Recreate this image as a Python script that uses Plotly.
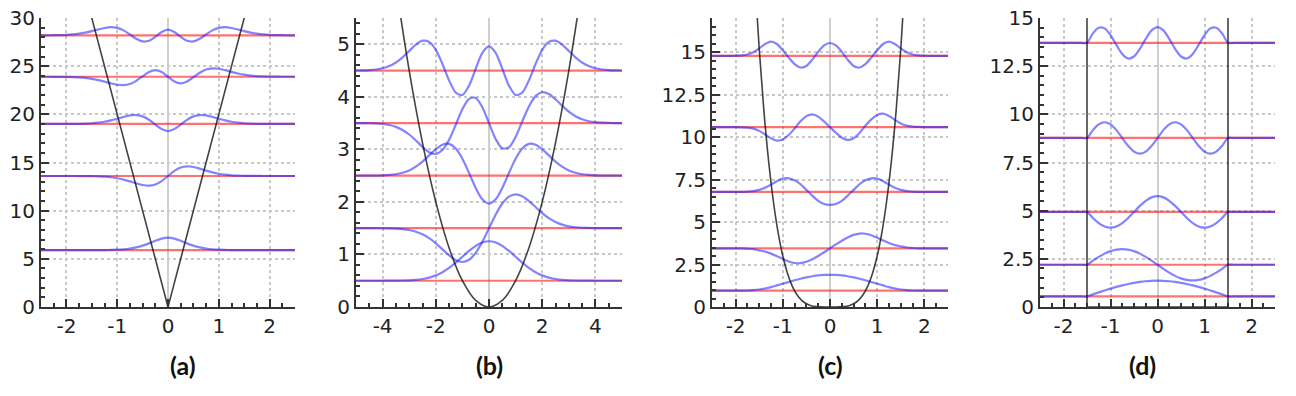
import plotly.graph_objects as go

# sample positions (panels a, c, d share one grid; panel b is wider)
x_grid = [-2.5, -2.375, -2.25, -2.125, -2.0, -1.875, -1.75, -1.625, -1.5, -1.375,
          -1.25, -1.125, -1.0, -0.875, -0.75, -0.625, -0.5, -0.375, -0.25, -0.125,
          0.0, 0.125, 0.25, 0.375, 0.5, 0.625, 0.75, 0.875, 1.0, 1.125,
          1.25, 1.375, 1.5, 1.625, 1.75, 1.875, 2.0, 2.125, 2.25, 2.375, 2.5]
x_wide = [-5.0, -4.75, -4.5, -4.25, -4.0, -3.75, -3.5, -3.25, -3.0, -2.75,
          -2.5, -2.25, -2.0, -1.75, -1.5, -1.25, -1.0, -0.75, -0.5, -0.25,
          0.0, 0.25, 0.5, 0.75, 1.0, 1.25, 1.5, 1.75, 2.0, 2.25,
          2.5, 2.75, 3.0, 3.25, 3.5, 3.75, 4.0, 4.25, 4.5, 4.75, 5.0]

# tick labels (plain hyphen minus, as in the original)
xt_narrow = [-2, -1, 0, 1, 2]
xt_narrow_text = ["-2", "-1", "0", "1", "2"]
xt_wide = [-4, -2, 0, 2, 4]
xt_wide_text = ["-4", "-2", "0", "2", "4"]

# (a) V-shaped well
levels_a = [5.9, 13.6, 19.0, 23.9, 28.2]
waves_a = [
    [0, 0, 0, 0, 0, 0, 0, 0, 0, 0.004, 0.010, 0.022, 0.046, 0.089, 0.166, 0.290, 0.468, 0.704, 0.970, 1.201,
     1.310,
     1.201, 0.970, 0.704, 0.468, 0.290, 0.166, 0.089, 0.046, 0.022, 0.010, 0.004, 0, 0, 0, 0, 0, 0, 0, 0, 0],
    [0, 0, 0, 0, 0, 0, -0.004, -0.008, -0.018, -0.038, -0.073, -0.134, -0.233, -0.376, -0.560, -0.765, -0.937, -1.008, -0.883, -0.526,
     0,
     0.526, 0.883, 1.008, 0.937, 0.765, 0.560, 0.376, 0.233, 0.134, 0.073, 0.038, 0.018, 0.008, 0.004, 0, 0, 0, 0, 0, 0],
    [0, 0, 0, 0, 0.004, 0.009, 0.019, 0.038, 0.074, 0.134, 0.230, 0.369, 0.545, 0.734, 0.887, 0.926, 0.788, 0.433, -0.067, -0.526,
     -0.734,
     -0.526, -0.067, 0.433, 0.788, 0.926, 0.887, 0.734, 0.545, 0.369, 0.230, 0.134, 0.074, 0.038, 0.019, 0.009, 0.004, 0, 0, 0, 0],
    [0, 0, -0.003, -0.008, -0.017, -0.035, -0.068, -0.124, -0.213, -0.342, -0.506, -0.685, -0.830, -0.872, -0.750, -0.421, 0.046, 0.483, 0.691, 0.490,
     0,
     -0.490, -0.691, -0.483, -0.046, 0.421, 0.750, 0.872, 0.830, 0.685, 0.506, 0.342, 0.213, 0.124, 0.068, 0.035, 0.017, 0.008, 0.003, 0, 0],
    [0.003, 0.006, 0.013, 0.027, 0.054, 0.101, 0.177, 0.288, 0.438, 0.609, 0.765, 0.848, 0.770, 0.517, 0.093, -0.359, -0.629, -0.566, -0.151, 0.350,
     0.602,
     0.350, -0.151, -0.566, -0.629, -0.359, 0.093, 0.517, 0.770, 0.848, 0.765, 0.609, 0.438, 0.288, 0.177, 0.101, 0.054, 0.027, 0.013, 0.006, 0.003],
]
pot_a_x = [-2.5, 0.0, 2.5]
pot_a_y = [50.0, 0.0, 50.0]

# (b) harmonic oscillator
levels_b = [0.5, 1.5, 2.5, 3.5, 4.5]
waves_b = [
    [0, 0, 0, 0, 0, 0.001, 0.002, 0.004, 0.008, 0.017, 0.033, 0.060, 0.102, 0.162, 0.244, 0.344, 0.456, 0.567, 0.663, 0.728,
     0.751,
     0.728, 0.663, 0.567, 0.456, 0.344, 0.244, 0.162, 0.102, 0.060, 0.033, 0.017, 0.008, 0.004, 0.002, 0.001, 0, 0, 0, 0, 0],
    [0, 0, 0, -0.001, -0.001, -0.004, -0.008, -0.018, -0.035, -0.067, -0.117, -0.190, -0.288, -0.402, -0.517, -0.608, -0.644, -0.601, -0.469, -0.257,
     0,
     0.257, 0.469, 0.601, 0.644, 0.608, 0.517, 0.402, 0.288, 0.190, 0.117, 0.067, 0.035, 0.018, 0.008, 0.004, 0.001, 0.001, 0, 0, 0],
    [0, 0, 0.001, 0.002, 0.006, 0.013, 0.027, 0.054, 0.100, 0.171, 0.268, 0.386, 0.503, 0.589, 0.604, 0.517, 0.322, 0.050, -0.234, -0.450,
     -0.531,
     -0.450, -0.234, 0.050, 0.322, 0.517, 0.604, 0.589, 0.503, 0.386, 0.268, 0.171, 0.100, 0.054, 0.027, 0.013, 0.006, 0.002, 0.001, 0, 0],
    [0, -0.001, -0.003, -0.007, -0.017, -0.036, -0.072, -0.130, -0.217, -0.330, -0.453, -0.553, -0.587, -0.513, -0.317, -0.031, 0.263, 0.460, 0.478, 0.302,
     0,
     -0.302, -0.478, -0.460, -0.263, 0.031, 0.317, 0.513, 0.587, 0.553, 0.453, 0.330, 0.217, 0.130, 0.072, 0.036, 0.017, 0.007, 0.003, 0.001, 0],
    [0.001, 0.003, 0.009, 0.020, 0.043, 0.085, 0.153, 0.252, 0.373, 0.493, 0.568, 0.546, 0.394, 0.125, -0.187, -0.420, -0.465, -0.288, 0.034, 0.337,
     0.460,
     0.337, 0.034, -0.288, -0.465, -0.420, -0.187, 0.125, 0.394, 0.546, 0.568, 0.493, 0.373, 0.252, 0.153, 0.085, 0.043, 0.020, 0.009, 0.003, 0.001],
]
pot_b_x = [-3.5, -3.0, -2.5, -2.0, -1.5, -1.0, -0.5, 0.0, 0.5, 1.0, 1.5, 2.0, 2.5, 3.0, 3.5]
pot_b_y = [6.125, 4.5, 3.125, 2.0, 1.125, 0.5, 0.125, 0.0, 0.125, 0.5, 1.125, 2.0, 3.125, 4.5, 6.125]

# (c) quartic well
levels_c = [0.96, 3.45, 6.77, 10.58, 14.77]
waves_c = [
    [0, 0, 0, 0, 0, 0, 0.01, 0.03, 0.07, 0.13, 0.21, 0.31, 0.41, 0.51, 0.61, 0.70, 0.78, 0.85, 0.90, 0.925,
     0.93,
     0.925, 0.90, 0.85, 0.78, 0.70, 0.61, 0.51, 0.41, 0.31, 0.21, 0.13, 0.07, 0.03, 0.01, 0, 0, 0, 0, 0, 0],
    [0, 0, 0, 0, 0, 0, -0.02, -0.05, -0.12, -0.19, -0.31, -0.46, -0.62, -0.77, -0.86, -0.87, -0.79, -0.64, -0.45, -0.23,
     0,
     0.23, 0.45, 0.64, 0.79, 0.87, 0.86, 0.77, 0.62, 0.46, 0.31, 0.19, 0.12, 0.05, 0.02, 0, 0, 0, 0, 0, 0],
    [0, 0, 0, 0, 0, 0, 0.02, 0.05, 0.12, 0.25, 0.43, 0.63, 0.78, 0.80, 0.68, 0.45, 0.12, -0.22, -0.53, -0.71,
     -0.76,
     -0.71, -0.53, -0.22, 0.12, 0.45, 0.68, 0.80, 0.78, 0.63, 0.43, 0.25, 0.12, 0.05, 0.02, 0, 0, 0, 0, 0, 0],
    [0, 0, 0, 0, 0, -0.01, -0.03, -0.09, -0.22, -0.43, -0.66, -0.79, -0.72, -0.46, -0.08, 0.34, 0.65, 0.75, 0.62, 0.33,
     0,
     -0.33, -0.62, -0.75, -0.65, -0.34, 0.08, 0.46, 0.72, 0.79, 0.66, 0.43, 0.22, 0.09, 0.03, 0.01, 0, 0, 0, 0, 0],
    [0, 0, 0, 0, 0.01, 0.03, 0.08, 0.21, 0.44, 0.70, 0.84, 0.70, 0.33, -0.10, -0.48, -0.68, -0.59, -0.22, 0.24, 0.62,
     0.76,
     0.62, 0.24, -0.22, -0.59, -0.68, -0.48, -0.10, 0.33, 0.70, 0.84, 0.70, 0.44, 0.21, 0.08, 0.03, 0.01, 0, 0, 0, 0],
]
pot_c_x = [-1.6, -1.5, -1.4, -1.3, -1.2, -1.1, -1.0, -0.9, -0.8, -0.7, -0.6, -0.5, -0.4, -0.3, -0.2, -0.1,
           0.0, 0.1, 0.2, 0.3, 0.4, 0.5, 0.6, 0.7, 0.8, 0.9, 1.0, 1.1, 1.2, 1.3, 1.4, 1.5, 1.6]
pot_c_y = [19.66, 15.19, 11.52, 8.57, 6.22, 4.39, 3.0, 1.97, 1.23, 0.72, 0.39, 0.19, 0.077, 0.024, 0.005, 0.0003,
           0.0, 0.0003, 0.005, 0.024, 0.077, 0.19, 0.39, 0.72, 1.23, 1.97, 3.0, 4.39, 6.22, 8.57, 11.52, 15.19, 19.66]

# (d) square well, walls at +-1.5
levels_d = [0.548, 2.193, 4.935, 8.773, 13.708]
waves_d = [
    [0, 0, 0, 0, 0, 0, 0, 0,
     0, 0.107, 0.211, 0.312, 0.408, 0.497, 0.577, 0.648, 0.707, 0.754, 0.789, 0.809, 0.816,
     0.809, 0.789, 0.754, 0.707, 0.648, 0.577, 0.497, 0.408, 0.312, 0.211, 0.107, 0,
     0, 0, 0, 0, 0, 0, 0, 0],
    [0, 0, 0, 0, 0, 0, 0, 0,
     0, 0.211, 0.408, 0.577, 0.707, 0.789, 0.816, 0.789, 0.707, 0.577, 0.408, 0.211, 0,
     -0.211, -0.408, -0.577, -0.707, -0.789, -0.816, -0.789, -0.707, -0.577, -0.408, -0.211, 0,
     0, 0, 0, 0, 0, 0, 0, 0],
    [0, 0, 0, 0, 0, 0, 0, 0,
     0, -0.312, -0.577, -0.754, -0.816, -0.754, -0.577, -0.312, 0, 0.312, 0.577, 0.754, 0.816,
     0.754, 0.577, 0.312, 0, -0.312, -0.577, -0.754, -0.816, -0.754, -0.577, -0.312, 0,
     0, 0, 0, 0, 0, 0, 0, 0],
    [0, 0, 0, 0, 0, 0, 0, 0,
     0, 0.408, 0.707, 0.816, 0.707, 0.408, 0, -0.408, -0.707, -0.816, -0.707, -0.408, 0,
     0.408, 0.707, 0.816, 0.707, 0.408, 0, -0.408, -0.707, -0.816, -0.707, -0.408, 0,
     0, 0, 0, 0, 0, 0, 0, 0],
    [0, 0, 0, 0, 0, 0, 0, 0,
     0, 0.497, 0.789, 0.754, 0.408, -0.107, -0.577, -0.809, -0.707, -0.312, 0.211, 0.648, 0.816,
     0.648, 0.211, -0.312, -0.707, -0.809, -0.577, -0.107, 0.408, 0.754, 0.789, 0.497, 0,
     0, 0, 0, 0, 0, 0, 0, 0],
]
pot_d_x = [-1.5, -1.5, 1.5, 1.5]
pot_d_y = [16.0, 0.0, 0.0, 16.0]

panel_labels = ["(a)", "(b)", "(c)", "(d)"]

RED = "rgba(255,20,20,0.6)"
BLUE = "rgba(30,30,255,0.55)"
BLACK = "rgba(20,20,20,0.8)"
AXIS = "#333333"
GRID = "#c8c8c8"

panels = [
    dict(x=x_grid, levels=levels_a, waves=waves_a, px=pot_a_x, py=pot_a_y, pshape="linear",
         xr=[-2.5, 2.5], yr=[0, 30], xt=xt_narrow, xtt=xt_narrow_text, xm=0.25, yd=5, ym=1,
         dom=[41, 295]),
    dict(x=x_wide, levels=levels_b, waves=waves_b, px=pot_b_x, py=pot_b_y, pshape="spline",
         xr=[-5, 5], yr=[0, 5.5], xt=xt_wide, xtt=xt_wide_text, xm=0.5, yd=1, ym=0.2,
         dom=[356, 622]),
    dict(x=x_grid, levels=levels_c, waves=waves_c, px=pot_c_x, py=pot_c_y, pshape="spline",
         xr=[-2.5, 2.5], yr=[0, 17], xt=xt_narrow, xtt=xt_narrow_text, xm=0.25, yd=2.5, ym=0.5,
         dom=[712, 948]),
    dict(x=x_grid, levels=levels_d, waves=waves_d, px=pot_d_x, py=pot_d_y, pshape="linear",
         xr=[-2.5, 2.5], yr=[0, 15], xt=xt_narrow, xtt=xt_narrow_text, xm=0.25, yd=2.5, ym=0.5,
         dom=[1040, 1275]),
]

W, H = 1296, 396
fig = go.Figure()
tick_font = dict(family="DejaVu Sans", size=20, color="#222222")

for i, p in enumerate(panels):
    n = "" if i == 0 else str(i + 1)
    xa, ya = "x" + n, "y" + n
    xs = p["x"]
    for e in p["levels"]:
        fig.add_trace(go.Scatter(x=[xs[0], xs[-1]], y=[e, e], mode="lines",
                                 line=dict(color=RED, width=2.2),
                                 xaxis=xa, yaxis=ya, showlegend=False, hoverinfo="skip"))
    for e, w in zip(p["levels"], p["waves"]):
        fig.add_trace(go.Scatter(x=xs, y=[e + v for v in w], mode="lines",
                                 line=dict(color=BLUE, width=2.2, shape="spline", smoothing=0.8),
                                 xaxis=xa, yaxis=ya, showlegend=False, hoverinfo="skip"))
    fig.add_trace(go.Scatter(x=p["px"], y=p["py"], mode="lines",
                             line=dict(color=BLACK, width=1.6, shape=p["pshape"]),
                             xaxis=xa, yaxis=ya, showlegend=False, hoverinfo="skip"))

    x0, x1 = p["dom"]
    fig.update_layout({
        "xaxis" + n: dict(domain=[x0 / W, x1 / W], range=p["xr"], anchor=ya, automargin=False,
                          tickmode="array", tickvals=p["xt"], ticktext=p["xtt"],
                          ticks="inside", ticklen=8, tickwidth=1.5, ticklabeloverflow="allow",
                          tickcolor=AXIS, showline=True, linecolor=AXIS, linewidth=2,
                          showgrid=True, gridcolor=GRID, griddash="dot", gridwidth=1.5,
                          zeroline=True, zerolinecolor="#cfcfcf", zerolinewidth=2,
                          minor=dict(tickmode="linear", tick0=0, dtick=p["xm"], ticks="inside",
                                     ticklen=4, tickcolor=AXIS, showgrid=False),
                          tickfont=tick_font, fixedrange=True),
        "yaxis" + n: dict(domain=[1 - 307 / H, 1 - 18 / H], range=p["yr"],
                          anchor=xa, automargin=False, ticklabeloverflow="allow",
                          dtick=p["yd"], tick0=0, ticks="inside", ticklen=8, tickwidth=1.5,
                          tickcolor=AXIS, showline=True, linecolor=AXIS, linewidth=2,
                          showgrid=True, gridcolor=GRID, griddash="dot", gridwidth=1.5,
                          zeroline=False,
                          minor=dict(dtick=p["ym"], ticks="inside", ticklen=4, tickcolor=AXIS,
                                     showgrid=False),
                          tickfont=tick_font, fixedrange=True),
    })
    fig.add_annotation(text="<b>%s</b>" % panel_labels[i], xref="paper", yref="paper",
                       x=(x0 + x1) / 2 / W, y=1 - 365 / H, yanchor="middle",
                       showarrow=False, font=dict(family="Lato", size=25, color="#111111"))

fig.update_layout(width=W, height=H, margin=dict(l=0, r=0, t=0, b=0, autoexpand=False),
                  paper_bgcolor="white", plot_bgcolor="white")

# drop the page's default body margin so the figure sits at the window corner
fig.write_html("out.html", config={"displayModeBar": False},
               post_script="document.body.style.margin='0';")
